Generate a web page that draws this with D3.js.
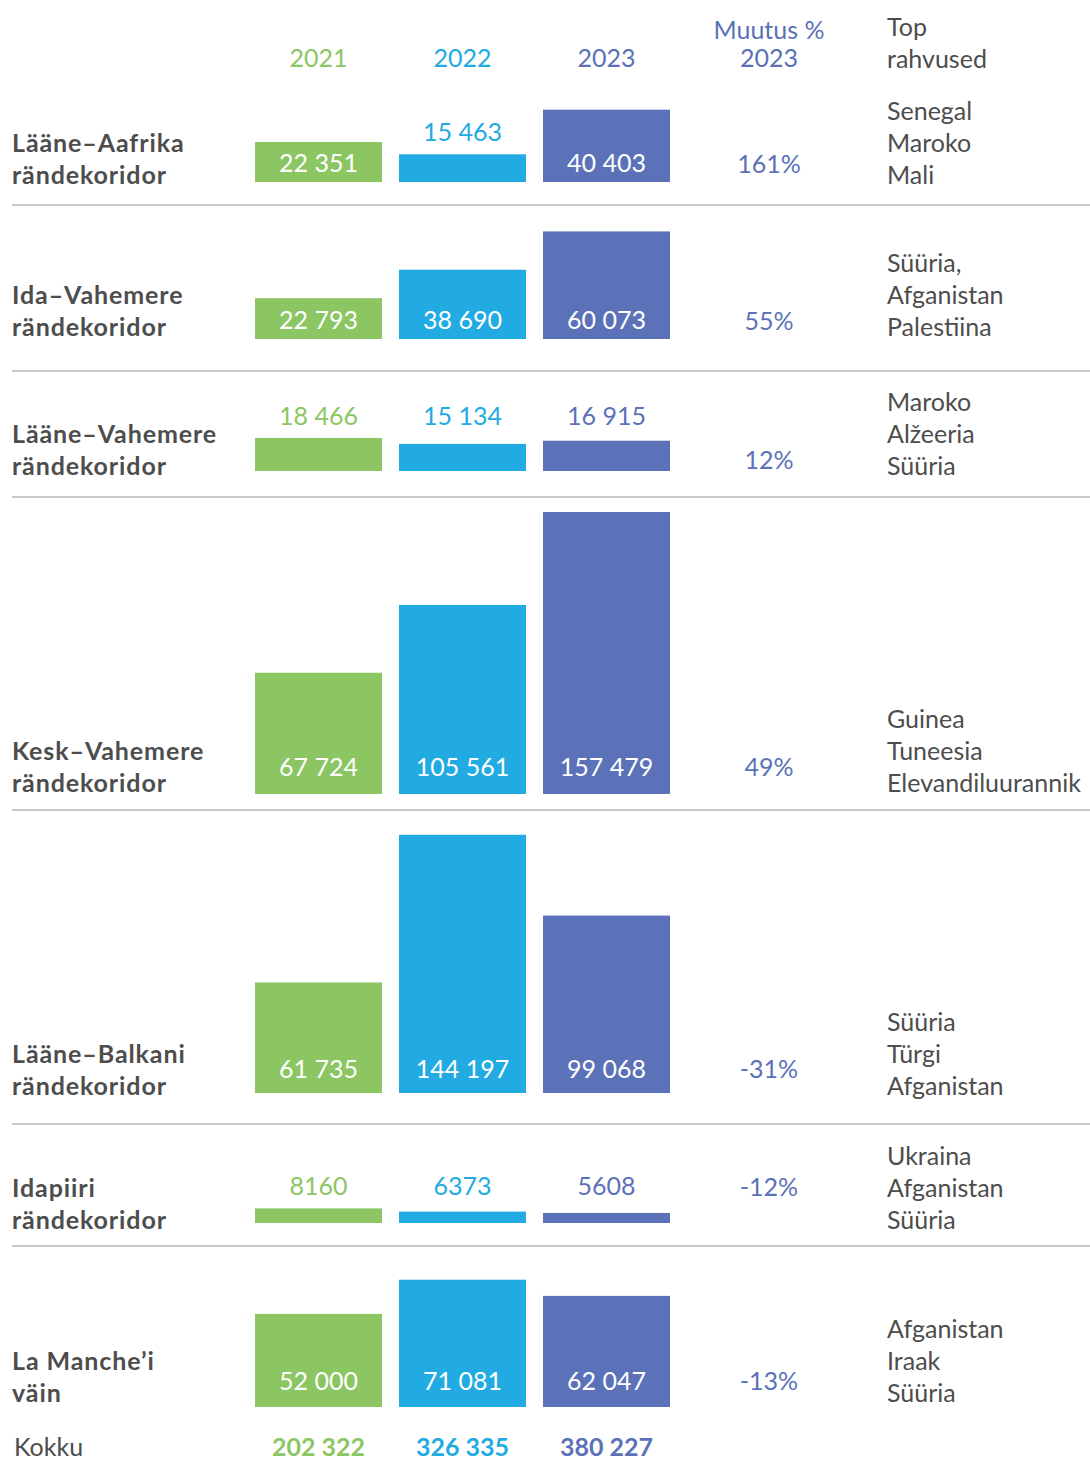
<!DOCTYPE html>
<html><head><meta charset="utf-8">
<script src="https://cdn.jsdelivr.net/npm/d3@7"></script>
<style>body{margin:0;background:#fff}svg{display:block}</style>
</head><body>
<svg id="c" width="1090" height="1465"></svg>
<script>
const years = ["2021", "2022", "2023"];
const corridors = [
  ["Lääne–Aafrika", "rändekoridor"],
  ["Ida–Vahemere", "rändekoridor"],
  ["Lääne–Vahemere", "rändekoridor"],
  ["Kesk–Vahemere", "rändekoridor"],
  ["Lääne–Balkani", "rändekoridor"],
  ["Idapiiri", "rändekoridor"],
  ["La Manche’i", "väin"]
];
const values2021 = [22351, 22793, 18466, 67724, 61735, 8160, 52000];
const values2022 = [15463, 38690, 15134, 105561, 144197, 6373, 71081];
const values2023 = [40403, 60073, 16915, 157479, 99068, 5608, 62047];
const changeLabels = ["161%", "55%", "12%", "49%", "-31%", "-12%", "-13%"];
const nationalities = [
  ["Senegal", "Maroko", "Mali"],
  ["Süüria,", "Afganistan", "Palestiina"],
  ["Maroko", "Alžeeria", "Süüria"],
  ["Guinea", "Tuneesia", "Elevandiluurannik"],
  ["Süüria", "Türgi", "Afganistan"],
  ["Ukraina", "Afganistan", "Süüria"],
  ["Afganistan", "Iraak", "Süüria"]
];
const totals = ["202 322", "326 335", "380 227"];
const headerChange = ["Muutus %", "2023"];
const headerNat = ["Top", "rahvused"];
const totalLabel = "Kokku";

// layout (not data)
const rowBaselines = [182, 339, 471, 794, 1093, 1223, 1407];
const separators = [205, 371, 497, 810, 1124, 1246];
const textLastDy = [-8, -13, -6, -12, -8, -4, -15];
const insideDy = [-20, -20, -20, -28, -25, -25, -27];
const changeDy = [-19, -19, -12, -28, -25, -37, -27];
const colors = ["#8bc663", "#22abe2", "#5b72b8"];
const textColor = "#4d4d4d";
const font = "Lato, 'Open Sans', sans-serif";

const series = [values2021, values2022, values2023];
const svg = d3.select("#c");

const x = d3.scaleBand().domain(years).range([255, 670]).paddingInner(17 / 144).paddingOuter(0);
const h = d3.scaleLinear().domain([0, 157479]).range([0, 282]);
const fmt = v => v >= 10000 ? d3.format(",")(v).replace(/,/g, " ") : String(v);

// headers
years.forEach((y, i) => {
  svg.append("text").attr("x", x(y) + x.bandwidth() / 2).attr("y", 57)
    .attr("text-anchor", "middle").attr("dominant-baseline", "central")
    .attr("font-family", font).attr("font-size", 25).attr("fill", colors[i]).text(y);
});
headerChange.forEach((t, i) => {
  svg.append("text").attr("x", 769).attr("y", 29 + i * 28)
    .attr("text-anchor", "middle").attr("dominant-baseline", "central")
    .attr("font-family", font).attr("font-size", 25).attr("fill", colors[2]).text(t);
});
headerNat.forEach((t, i) => {
  svg.append("text").attr("x", 887).attr("y", 26 + i * 32)
    .attr("dominant-baseline", "central")
    .attr("font-family", font).attr("font-size", 25).attr("fill", textColor).text(t);
});

// separators
svg.selectAll("line.sep").data(separators).join("line").attr("class", "sep")
  .attr("x1", 12).attr("x2", 1090).attr("y1", d => d).attr("y2", d => d)
  .attr("stroke", "#bdb3b0").attr("stroke-width", 1.5);

corridors.forEach((c, r) => {
  const base = rowBaselines[r];
  const g = svg.append("g");
  const vals = series.map(s => s[r]);
  const inside = vals.map(v => h(v) >= 38);
  const outsideTops = vals.filter((v, i) => !inside[i]).map(v => base - h(v));
  const outY = outsideTops.length ? d3.min(outsideTops) - 23 : 0;
  vals.forEach((v, i) => {
    g.append("rect").attr("x", x(years[i])).attr("width", x.bandwidth())
      .attr("y", base - h(v)).attr("height", h(v)).attr("fill", colors[i]);
    g.append("text").attr("x", x(years[i]) + x.bandwidth() / 2)
      .attr("y", inside[i] ? base + insideDy[r] : outY)
      .attr("text-anchor", "middle").attr("dominant-baseline", "central")
      .attr("font-family", font).attr("font-size", 25)
      .attr("fill", inside[i] ? "#fff" : colors[i]).text(fmt(v));
  });
  g.append("text").attr("x", 769).attr("y", base + changeDy[r])
    .attr("text-anchor", "middle").attr("dominant-baseline", "central")
    .attr("font-family", font).attr("font-size", 25).attr("fill", colors[2]).text(changeLabels[r]);
  const last = base + textLastDy[r];
  c.forEach((t, k) => {
    g.append("text").attr("x", 12).attr("y", last - (c.length - 1 - k) * 32)
      .attr("dominant-baseline", "central")
      .attr("font-family", font).attr("font-weight", 700).attr("font-size", 25)
      .attr("letter-spacing", 0.9)
      .attr("fill", textColor).text(t);
  });
  nationalities[r].forEach((t, k) => {
    g.append("text").attr("x", 887).attr("y", last - (nationalities[r].length - 1 - k) * 32)
      .attr("dominant-baseline", "central")
      .attr("font-family", font).attr("font-size", 25).attr("fill", textColor).text(t);
  });
});

svg.append("text").attr("x", 14).attr("y", 1446).attr("dominant-baseline", "central")
  .attr("font-family", font).attr("font-size", 25).attr("fill", textColor).text(totalLabel);
totals.forEach((t, i) => {
  svg.append("text").attr("x", x(years[i]) + x.bandwidth() / 2).attr("y", 1446)
    .attr("text-anchor", "middle").attr("dominant-baseline", "central")
    .attr("font-family", font).attr("font-weight", 700).attr("font-size", 25)
    .attr("fill", colors[i]).text(t);
});
</script>
</body></html>
